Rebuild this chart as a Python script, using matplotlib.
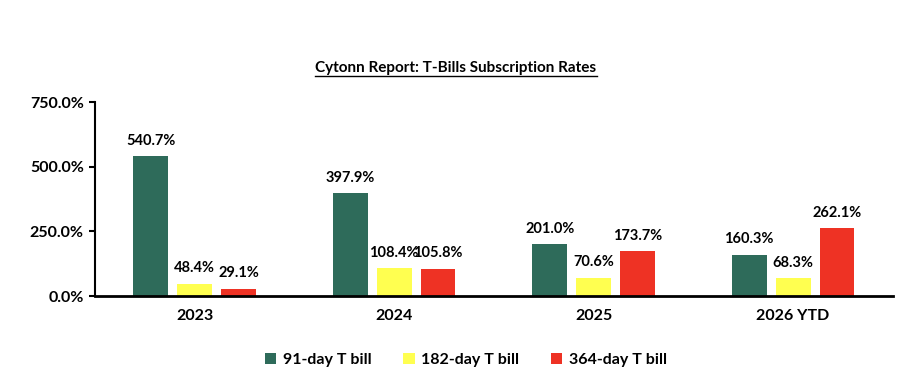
import numpy as np
import matplotlib.pyplot as plt

plt.rcParams['font.family'] = ['Lato', 'DejaVu Sans']
plt.rcParams['font.weight'] = 'bold'

# data
years = ["2023", "2024", "2025", "2026 YTD"]
bill_91 = [540.7, 397.9, 201.0, 160.3]
bill_182 = [48.4, 108.4, 70.6, 68.3]
bill_364 = [29.1, 105.8, 173.7, 262.1]
series_names = ["91-day T bill", "182-day T bill", "364-day T bill"]
colors = ["#2E6B5A", "#FFFF50", "#EE3224"]

fig = plt.figure(figsize=(9.12, 3.88), dpi=100)
ax = fig.add_axes([0.104, 0.237, 0.875, 0.5])

x = np.arange(len(years))
step = 0.22
width = 0.175
for i, (vals, name, c) in enumerate(zip([bill_91, bill_182, bill_364], series_names, colors)):
    bars = ax.bar(x + (i - 1) * step, vals, width, color=c, label=name)
    ax.bar_label(bars, labels=["{:.1f}%".format(v) for v in vals], padding=6,
                 fontsize=10.5, fontweight='bold')

ax.set_xlim(-0.5, len(years) - 0.5)
ax.set_ylim(0, 750)
ax.set_yticks([0, 250, 500, 750])
ax.set_yticklabels(["{:.1f}%".format(v) for v in [0, 250, 500, 750]])
ax.set_xticks(x)
ax.set_xticklabels(years)
ax.tick_params(axis='both', labelsize=11.5, width=1.5)
ax.tick_params(axis='x', length=0, pad=9)
ax.tick_params(axis='y', length=4, direction='out', pad=4)
ax.spines['top'].set_visible(False)
ax.spines['right'].set_visible(False)
ax.spines['left'].set_linewidth(1.5)
ax.spines['bottom'].set_linewidth(2)

title = fig.text(0.5, 1 - 68 / 388, "Cytonn Report: T-Bills Subscription Rates", ha='center', va='center',
                 fontsize=11, fontweight='bold')
# underline title
fig.canvas.draw()
bb = title.get_window_extent()
fig.add_artist(plt.Line2D([bb.x0 / 912, bb.x1 / 912], [(bb.y0 - 1) / 388, (bb.y0 - 1) / 388],
                          color='black', linewidth=1))

ax.legend(loc='center', bbox_to_anchor=(0.465, -0.33), ncol=3, frameon=False, fontsize=11.5,
          handlelength=0.7, handleheight=0.7, columnspacing=2.0, handletextpad=0.4)

fig.savefig("out.png", dpi=100)
